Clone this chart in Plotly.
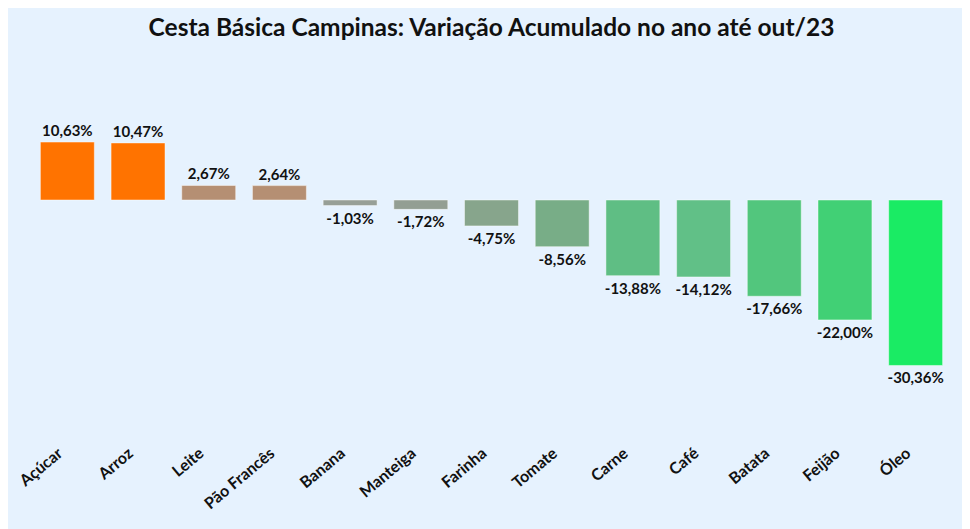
import plotly.graph_objects as go

categories = ["Açúcar", "Arroz", "Leite", "Pão Francês", "Banana", "Manteiga",
              "Farinha", "Tomate", "Carne", "Café", "Batata", "Feijão", "Óleo"]
values = [10.63, 10.47, 2.67, 2.64, -1.03, -1.72, -4.75, -8.56, -13.88, -14.12,
          -17.66, -22.00, -30.36]
colors = ["#FF7300", "#FF7300", "#B58F73", "#B58F73", "#979F97", "#939E93",
          "#87A58C", "#78AD87", "#5FBE84", "#61C087", "#52C67D", "#41D075", "#1AEB64"]
labels = [f"<b>{v:.2f}".replace(".", ",") + "%</b>" for v in values]
title_text = "Cesta Básica Campinas: Variação Acumulado no ano até out/23"

# page has an 8px body margin; figure is sized to fit the 970x529 window
OFF = 8
W, H = 970 - OFF, 529 - OFF
ml, mr, mt, mb = 24, 19, 52, 89
fontfam = "Lato, 'Open Sans', sans-serif"

fig = go.Figure(go.Bar(
    x=categories, y=values,
    marker=dict(color=colors, line=dict(color="rgba(255,255,255,0.45)", width=1)),
    text=labels, textposition="outside", constraintext="none", cliponaxis=False,
    textfont=dict(family=fontfam, size=15, color="#111111"),
    hoverinfo="x+y",
))

px_per_unit = 5.45
base = 200 - OFF
y_top = (base - mt) / px_per_unit
y_bot = -((H - mb) - base) / px_per_unit

fig.update_layout(
    width=W, height=H,
    margin=dict(l=ml, r=mr, t=mt, b=mb, autoexpand=False),
    paper_bgcolor="#E6F2FE",
    plot_bgcolor="rgba(0,0,0,0)",
    bargap=0.237,
    showlegend=False,
    title=dict(text=f"<b>{title_text}</b>", x=483.5 / W, xanchor="center",
               xref="container", y=1 - 19 / H, yanchor="middle", yref="container",
               font=dict(family=fontfam, size=24.5, color="#111111")),
    xaxis=dict(tickangle=-40, showgrid=False, zeroline=False, showline=False, ticks="",
               automargin=False, ticklabelshift=-9,
               tickfont=dict(family=fontfam, size=16, color="#111111"),
               tickprefix="<b>", ticksuffix="</b>"),
    yaxis=dict(range=[y_bot, y_top], visible=False, showgrid=False, zeroline=False,
               automargin=False),
)

fig.write_html("out.html")
